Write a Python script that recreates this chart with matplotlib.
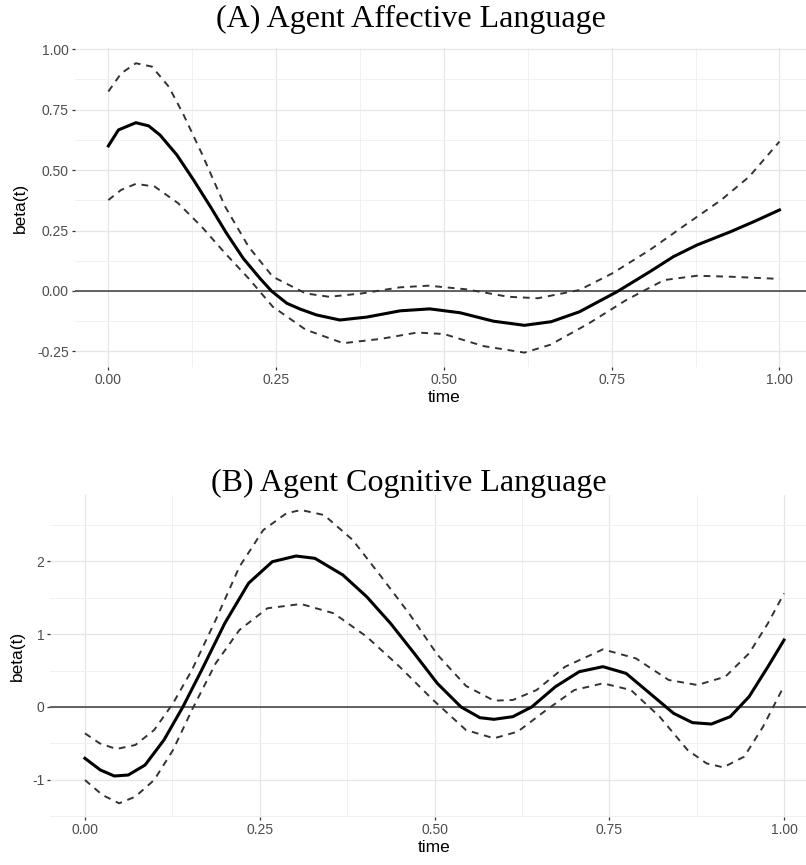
import matplotlib.pyplot as plt

# (A) agent affective language: estimate and dashed bounds
a_mid_x = [0.000, 0.015, 0.041, 0.060, 0.077, 0.102, 0.127, 0.152, 0.176, 0.201, 0.226, 0.243,
           0.266, 0.286, 0.310, 0.345, 0.385, 0.435, 0.479, 0.524, 0.574, 0.620, 0.660, 0.702,
           0.758, 0.807, 0.842, 0.877, 0.927, 0.962, 1.000]
a_mid_y = [0.600, 0.666, 0.696, 0.683, 0.645, 0.563, 0.459, 0.349, 0.239, 0.135, 0.052, 0.000,
           -0.051, -0.075, -0.099, -0.120, -0.108, -0.082, -0.074, -0.090, -0.125, -0.142, -0.127, -0.086,
           -0.003, 0.080, 0.142, 0.190, 0.245, 0.287, 0.335]
a_hi_x = [0.000, 0.019, 0.041, 0.065, 0.090, 0.111, 0.139, 0.174, 0.209, 0.245, 0.294, 0.329,
          0.378, 0.434, 0.477, 0.533, 0.596, 0.640, 0.702, 0.751, 0.807, 0.856, 0.913, 0.955, 1.000]
a_hi_y = [0.825, 0.900, 0.942, 0.928, 0.845, 0.735, 0.570, 0.349, 0.183, 0.059, -0.010, -0.024,
          -0.010, 0.015, 0.022, 0.007, -0.024, -0.030, 0.004, 0.073, 0.170, 0.266, 0.376, 0.473, 0.618]
a_lo_x = [0.000, 0.019, 0.041, 0.069, 0.104, 0.139, 0.174, 0.209, 0.245, 0.294, 0.350, 0.406,
          0.460, 0.500, 0.559, 0.620, 0.659, 0.716, 0.772, 0.828, 0.877, 0.927, 1.000]
a_lo_y = [0.376, 0.418, 0.443, 0.432, 0.363, 0.266, 0.156, 0.052, -0.065, -0.160, -0.216, -0.198,
          -0.172, -0.178, -0.228, -0.255, -0.222, -0.134, -0.037, 0.045, 0.063, 0.059, 0.050]

# (B) agent cognitive language
b_mid_x = [0.000, 0.022, 0.042, 0.062, 0.086, 0.113, 0.140, 0.167, 0.200, 0.234, 0.268, 0.302,
           0.329, 0.369, 0.403, 0.437, 0.471, 0.504, 0.538, 0.565, 0.585, 0.612, 0.639, 0.673,
           0.707, 0.741, 0.774, 0.808, 0.842, 0.869, 0.896, 0.923, 0.950, 0.977, 1.000]
b_mid_y = [-0.705, -0.865, -0.948, -0.934, -0.797, -0.453, 0.000, 0.508, 1.150, 1.700, 1.996, 2.074,
           2.042, 1.813, 1.515, 1.150, 0.737, 0.325, 0.000, -0.147, -0.169, -0.133, 0.000, 0.279,
           0.485, 0.554, 0.462, 0.188, -0.087, -0.215, -0.234, -0.133, 0.142, 0.554, 0.920]
b_hi_x = [0.000, 0.021, 0.045, 0.072, 0.099, 0.126, 0.153, 0.187, 0.221, 0.255, 0.288, 0.309,
          0.342, 0.383, 0.423, 0.464, 0.504, 0.545, 0.585, 0.612, 0.646, 0.687, 0.741, 0.788,
          0.835, 0.876, 0.916, 0.950, 0.977, 1.000]
b_hi_y = [-0.362, -0.499, -0.577, -0.522, -0.316, 0.050, 0.508, 1.195, 1.927, 2.430, 2.660, 2.706,
          2.637, 2.294, 1.800, 1.280, 0.720, 0.290, 0.087, 0.096, 0.233, 0.554, 0.792, 0.668,
          0.371, 0.302, 0.416, 0.737, 1.150, 1.560]
b_lo_x = [0.000, 0.025, 0.049, 0.072, 0.099, 0.126, 0.153, 0.187, 0.221, 0.261, 0.309, 0.356,
          0.403, 0.450, 0.498, 0.545, 0.585, 0.619, 0.660, 0.700, 0.741, 0.781, 0.822, 0.862,
          0.889, 0.913, 0.943, 0.970, 1.000]
b_lo_y = [-1.003, -1.209, -1.323, -1.232, -1.003, -0.591, -0.041, 0.600, 1.058, 1.356, 1.415, 1.287,
          0.966, 0.554, 0.096, -0.316, -0.430, -0.339, -0.041, 0.233, 0.325, 0.233, -0.133, -0.591,
          -0.774, -0.829, -0.682, -0.270, 0.290]

x_ticks = [0.0, 0.25, 0.5, 0.75, 1.0]
x_labels = ['0.00', '0.25', '0.50', '0.75', '1.00']
x_minor = [0.125, 0.375, 0.625, 0.875]
a_yticks = [-0.25, 0.0, 0.25, 0.5, 0.75, 1.0]
a_ylabels = ['-0.25', '0.00', '0.25', '0.50', '0.75', '1.00']
a_yminor = [-0.125, 0.125, 0.375, 0.625, 0.875]
b_yticks = [-1, 0, 1, 2]
b_ylabels = ['-1', '0', '1', '2']
b_yminor = [-1.5, -0.5, 0.5, 1.5, 2.5]

plt.rcParams['font.family'] = ['Liberation Sans', 'DejaVu Sans']

W, H = 806, 865
fig = plt.figure(figsize=(W / 100, H / 100), dpi=100)


def px_axes(left, top, right, bottom):
    return fig.add_axes([left / W, 1 - bottom / H, (right - left) / W, (bottom - top) / H])


def panel(ax, mx, my, hx, hy, lx, ly, yt, yl, ymin, ylim, lab_x):
    ax.set_xlim(-0.05, 1.05)
    ax.set_ylim(*ylim)
    for s in ax.spines.values():
        s.set_visible(False)
    ax.set_xticks(x_ticks)
    ax.set_xticklabels(x_labels)
    ax.set_xticks(x_minor, minor=True)
    ax.set_yticks(yt)
    ax.set_yticklabels(yl)
    ax.set_yticks(ymin, minor=True)
    ax.grid(True, which='major', color='#e6e6e6', lw=0.9)
    ax.grid(True, which='minor', color='#f0f0f0', lw=0.7)
    ax.set_axisbelow(True)
    ax.tick_params(which='major', length=2.2, width=0.9, color='#333333',
                   labelcolor='#4d4d4d', labelsize=10, pad=2)
    ax.tick_params(which='minor', length=0)
    ax.axhline(0, color='#555555', lw=1.3, zorder=2)
    ax.plot(hx, hy, color='#333333', lw=1.4, dashes=(3.5, 3), zorder=3)
    ax.plot(lx, ly, color='#333333', lw=1.4, dashes=(3.5, 3), zorder=3)
    ax.plot(mx, my, color='black', lw=2.2, zorder=4, solid_joinstyle='round')
    ax.set_xlabel('time', fontsize=12.5, labelpad=2)
    ax.set_ylabel('beta(t)', fontsize=12.5)
    ax.yaxis.set_label_coords(lab_x, 0.5)


ax1 = px_axes(74.8, 48, 813, 367)
panel(ax1, a_mid_x, a_mid_y, a_hi_x, a_hi_y, a_lo_x, a_lo_y,
      a_yticks, a_ylabels, a_yminor, (-0.3144, 1.005), -0.0634)

ax2 = px_axes(50, 495, 819, 817)
panel(ax2, b_mid_x, b_mid_y, b_hi_x, b_hi_y, b_lo_x, b_lo_y,
      b_yticks, b_ylabels, b_yminor, (-1.511, 2.912), -0.0325)

fig.text(411 / W, 1 - 19 / H, '(A) Agent Affective Language', family='Liberation Serif',
         fontsize=23, ha='center', va='center')
fig.text(409 / W, 1 - 483 / H, '(B) Agent Cognitive Language', family='Liberation Serif',
         fontsize=23, ha='center', va='center')

fig.savefig('out.png', dpi=100)
